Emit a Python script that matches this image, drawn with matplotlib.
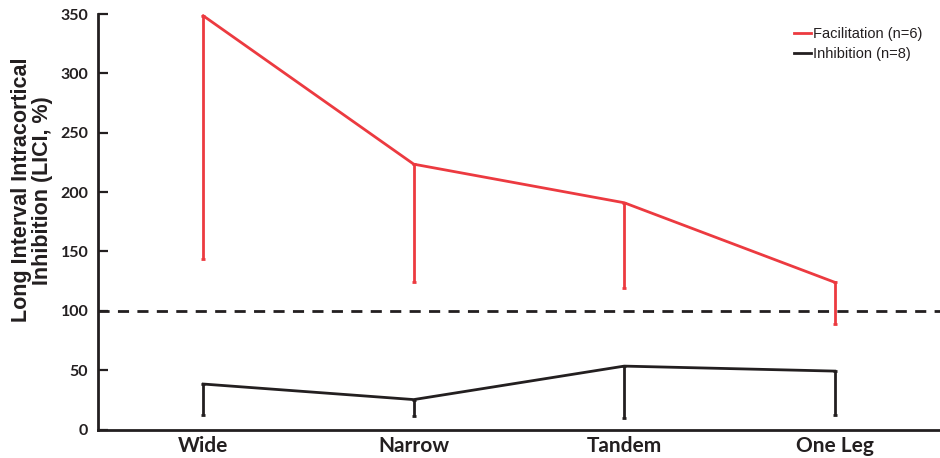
import matplotlib
matplotlib.use("Agg")
import matplotlib.pyplot as plt
import numpy as np

# Stance conditions and LICI group means with downward-only error bars
conditions = ["Wide", "Narrow", "Tandem", "One Leg"]
facil_mean = [348.5, 223.5, 191.0, 124.0]
facil_err = [205.0, 99.5, 72.0, 35.0]
inhib_mean = [38.3, 25.2, 53.4, 49.2]
inhib_err = [26.0, 13.8, 43.7, 37.2]
baseline = 100
yticks = [0, 50, 100, 150, 200, 250, 300, 350]

RED = "#ec3a40"
DARK = "#231f20"

plt.rcParams["font.family"] = ["Liberation Sans", "DejaVu Sans"]

fig = plt.figure(figsize=(9.4, 4.58), dpi=100)
ax = fig.add_axes([98 / 940, (458 - 429.5) / 458, 1 - 98 / 940, (429.5 - 14) / 458])

x = np.arange(len(conditions))

# downward-only error bars
ax.errorbar(x, facil_mean, yerr=[facil_err, [0] * len(x)], color=RED, lw=2.0,
            elinewidth=2.0, capsize=1.5, capthick=2.0, label="Facilitation (n=6)",
            zorder=3)
ax.errorbar(x, inhib_mean, yerr=[inhib_err, [0] * len(x)], color=DARK, lw=2.0,
            elinewidth=2.0, capsize=1.5, capthick=2.0, label="Inhibition (n=8)",
            zorder=3)
ax.axhline(baseline, color=DARK, lw=2.0, ls=(0, (4, 3)), zorder=2)

ax.set_xlim(-0.5, 3.5)
ax.set_ylim(0, 350)
ax.set_xticks(x, conditions)
ax.set_yticks(yticks)
ax.tick_params(axis="x", length=0, pad=5, labelsize=15, colors=DARK)
ax.tick_params(axis="y", direction="in", length=7, width=1.6, pad=7,
               labelsize=11.5, colors=DARK)
for lab in ax.get_xticklabels() + ax.get_yticklabels():
    lab.set_fontweight("bold")
    lab.set_family(["Lato", "DejaVu Sans"])

for side in ("top", "right"):
    ax.spines[side].set_visible(False)
for side in ("left", "bottom"):
    ax.spines[side].set_linewidth(2.0)
    ax.spines[side].set_color(DARK)

ax.set_ylabel("Long Interval Intracortical\nInhibition (LICI, %)",
              fontsize=15.5, fontweight="bold", color=DARK, linespacing=1.05)
ax.yaxis.set_label_coords(-0.053, 0.576)

# legend without markers / error bar caps
handles, labels = ax.get_legend_handles_labels()
handles = [h[0] for h in handles]
leg = ax.legend(handles, labels, loc="upper right", frameon=False, fontsize=10.5,
                handlelength=1.2, handletextpad=0.15, labelspacing=0.4,
                bbox_to_anchor=(0.995, 1.0))
for t in leg.get_texts():
    t.set_color(DARK)

fig.savefig("out.png", dpi=100)
